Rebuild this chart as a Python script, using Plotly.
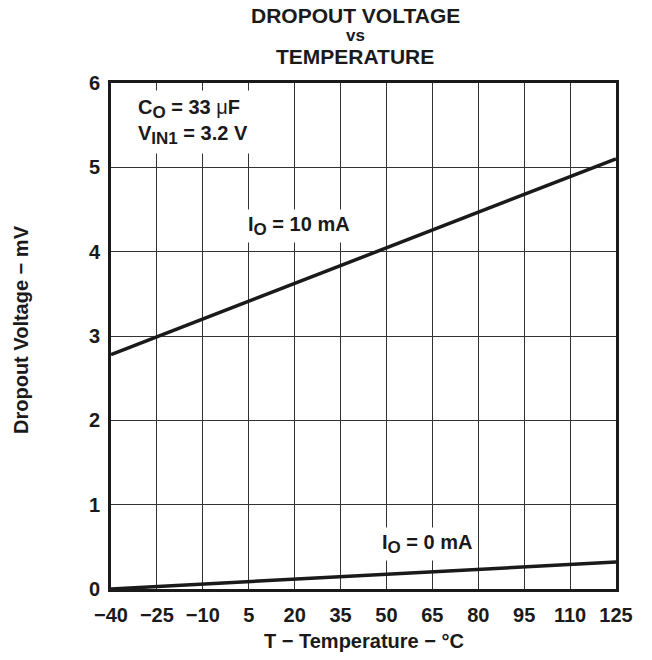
import plotly.graph_objects as go

# Data
temps_c = [-40, 125]
dropout_10ma = [2.78, 5.10]
dropout_0ma = [0.00, 0.32]

x_ticks = [-40, -25, -10, 5, 20, 35, 50, 65, 80, 95, 110, 125]
x_ticktext = ["\u221240", "\u221225", "\u221210", "5", "20", "35", "50", "65", "80", "95", "110", "125"]
y_ticks = [0, 1, 2, 3, 4, 5, 6]

FONT = "Liberation Sans, Arial, sans-serif"
INK = "#1a1a1a"

L, R, T, B = 111, 36, 83, 71
W, H = 652, 660
plot_w = W - L - R
plot_h = H - T - B


def px_to_paper(xpx, ypx):
    return (xpx - L) / plot_w, (H - B - ypx) / plot_h


fig = go.Figure()
fig.add_trace(go.Scatter(x=temps_c, y=dropout_10ma, mode="lines",
                         line=dict(color=INK, width=3.5), showlegend=False))
fig.add_trace(go.Scatter(x=temps_c, y=dropout_0ma, mode="lines",
                         line=dict(color=INK, width=3.5), showlegend=False))

ann_font = dict(family=FONT, size=20, color=INK, weight="bold")
SUB = "<sub><span style='font-size:17px'>{}</span></sub>"
MU = "<span style='font-weight:normal'>\u03bc</span>"

fig.add_annotation(x=-33.1, y=5.54, xref="x", yref="y",
                   text="C" + SUB.format("O") + " = 33 " + MU + "F<br>V" + SUB.format("IN1") + " = 3.2 V",
                   align="left", showarrow=False, xanchor="left", yanchor="middle",
                   font=ann_font, bgcolor="white", borderpad=5)
fig.add_annotation(x=3.45, y=4.30, xref="x", yref="y", text="I" + SUB.format("O") + " = 10 mA",
                   showarrow=False, xanchor="left", yanchor="middle", font=ann_font,
                   bgcolor="white", borderpad=3)
fig.add_annotation(x=47.2, y=0.53, xref="x", yref="y", text="I" + SUB.format("O") + " = 0 mA",
                   showarrow=False, xanchor="left", yanchor="middle", font=ann_font,
                   bgcolor="white", borderpad=3)

# Title (three centred lines)
for txt, ypx, size in [("DROPOUT VOLTAGE", 15, 21), ("vs", 35, 17), ("TEMPERATURE", 56, 21)]:
    px, py = px_to_paper(355, ypx)
    fig.add_annotation(x=px, y=py, xref="paper", yref="paper",
                       text=txt, showarrow=False, xanchor="center", yanchor="middle",
                       font=dict(family=FONT, size=size, color=INK, weight="bold"))
# Y axis title
px, py = px_to_paper(21, 330)
fig.add_annotation(x=px, y=py, xref="paper", yref="paper",
                   text="Dropout Voltage \u2212 mV", textangle=-90, showarrow=False,
                   xanchor="center", yanchor="middle",
                   font=dict(family=FONT, size=20, color=INK, weight="bold"))
# X axis title
px, py = px_to_paper(364, 641)
fig.add_annotation(x=px, y=py, xref="paper", yref="paper",
                   text="T \u2212 Temperature \u2212 \u00b0C", showarrow=False,
                   xanchor="center", yanchor="middle",
                   font=dict(family=FONT, size=20, color=INK, weight="bold"))

fig.update_layout(
    width=W, height=H,
    margin=dict(l=L, r=R, t=T, b=B),
    paper_bgcolor="white", plot_bgcolor="white",
    font=dict(family=FONT, color=INK),
    xaxis=dict(range=[-40, 125], tickvals=x_ticks, ticktext=x_ticktext,
               showgrid=True, gridcolor="#333333", gridwidth=1,
               showline=True, linecolor=INK, linewidth=3, mirror=True,
               ticks="", zeroline=False, automargin=False, ticklabelstandoff=6,
               tickfont=dict(family=FONT, size=20, color=INK, weight="bold")),
    yaxis=dict(range=[0, 6], tickvals=y_ticks,
               showgrid=True, gridcolor="#333333", gridwidth=1,
               showline=True, linecolor=INK, linewidth=3, mirror=True,
               ticks="", zeroline=False, automargin=False, ticklabelstandoff=4,
               tickfont=dict(family=FONT, size=20, color=INK, weight="bold")),
)

fig.write_html("out.html", config={"displayModeBar": False},
               post_script="document.body.style.margin='0px';document.body.style.overflow='hidden';")
